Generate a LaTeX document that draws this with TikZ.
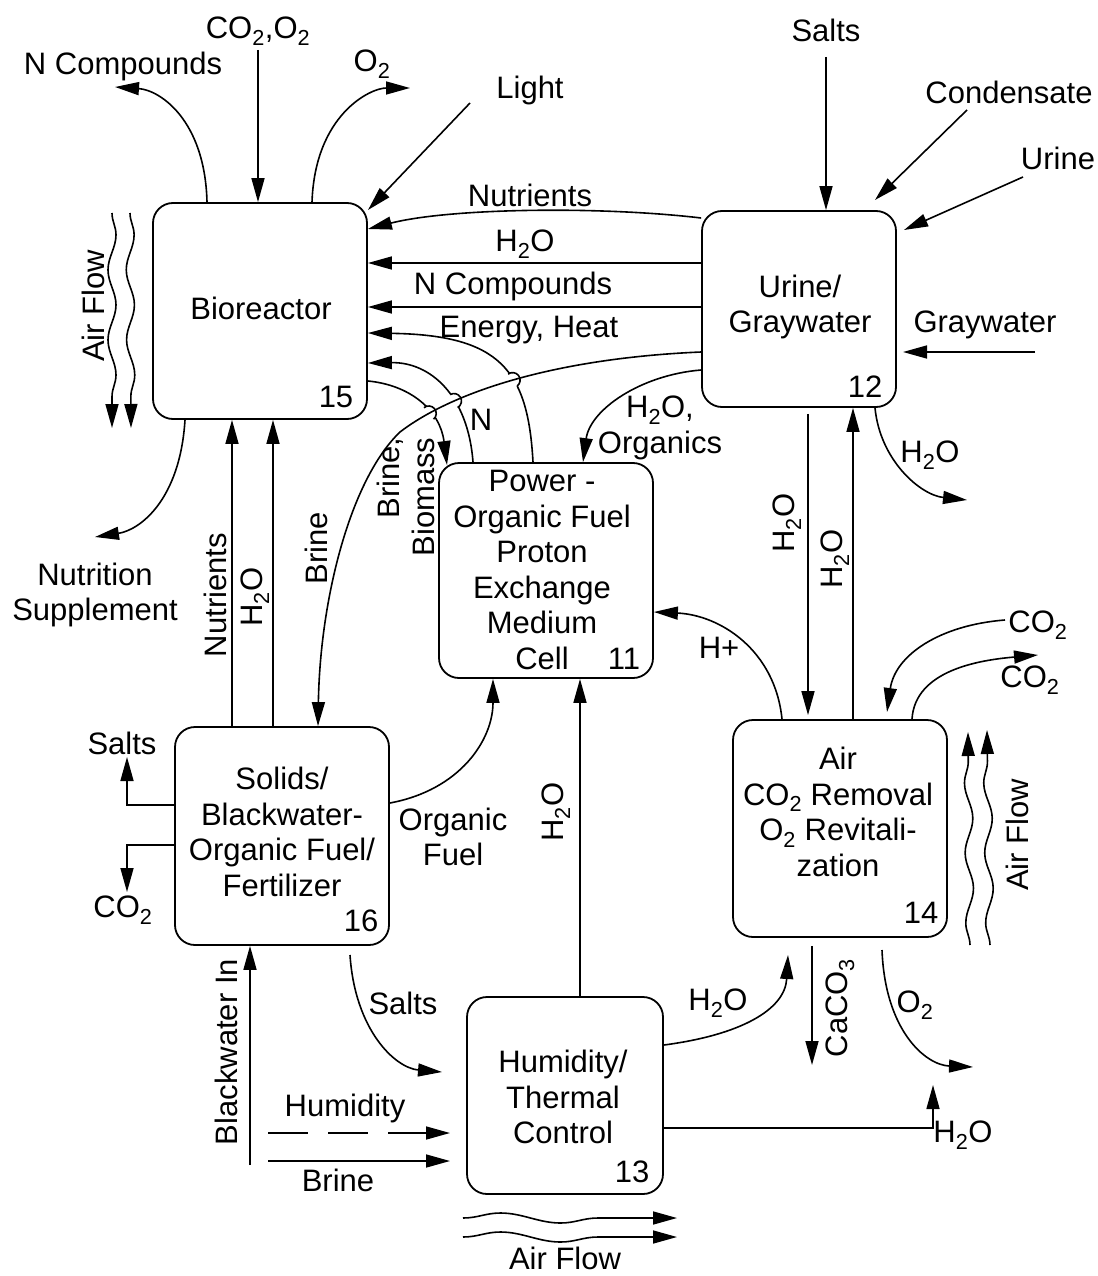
\documentclass[tikz,border=0pt]{standalone}
\usepackage{fontspec}
\setmainfont{Liberation Sans}
\usetikzlibrary{arrows.meta,decorations.pathmorphing,intersections}
\newcommand\fs{\fontsize{31}{35.5}\selectfont}
\newcommand\sbs[1]{\textsubscript{#1}}
\begin{document}
\begin{tikzpicture}[x=1pt,y=-1pt,
  box/.style={draw, rounded corners=20pt, line width=1.8pt, inner sep=0pt},
  lbl/.style={font=\fs, inner sep=0pt, align=center},
  ln/.style={line width=1.6pt},
  arr/.style={line width=1.6pt, -{Triangle[length=24pt,width=13pt]}},
  wave/.style={decorate, decoration={snake, amplitude=4pt, segment length=70pt, post length=28pt}},
  hwave/.style={decorate, decoration={snake, amplitude=5pt, segment length=120pt, post length=28pt}},
]
\useasboundingbox[fill=white] (0,0) rectangle (1097,1276);

% ---------- boxes ----------
\node[box, minimum width=214pt, minimum height=216pt] (b15) at (260,311) {};
\node[box, minimum width=194pt, minimum height=196pt] (b12) at (799,309) {};
\node[box, minimum width=214pt, minimum height=215pt] (b11) at (546,570.5) {};
\node[box, minimum width=214pt, minimum height=217pt] (b14) at (840,828.5) {};
\node[box, minimum width=214pt, minimum height=218pt] (b16) at (282,836) {};
\node[box, minimum width=196pt, minimum height=197pt] (b13) at (565,1095.5) {};

\node[lbl] (t15) at (261,308) {Bioreactor};
\node[lbl] (n15) at (336,397) {15};
\node[lbl] (t12) at (800,307) {Urine/\\Graywater};
\node[lbl] (n12) at (865,387) {12};
\node[lbl] (t11) at (542,570) {Power -\\Organic Fuel\\Proton\\Exchange\\Medium\\Cell};
\node[lbl] (n11) at (624,659) {11};
\node[lbl] (t14) at (838,812) {Air\\CO\sbs{2} Removal\\O\sbs{2} Revitali-\\zation};
\node[lbl] (n14) at (921,913) {14};
\node[lbl] (t16) at (282,832) {Solids/\\Blackwater-\\Organic Fuel/\\Fertilizer};
\node[lbl] (n16) at (361,921) {16};
\node[lbl] (t13) at (563,1097) {Humidity/\\Thermal\\Control};
\node[lbl] (n13) at (632,1172) {13};

% ---------- free ends ----------
\coordinate (pNC) at (115,87);
\coordinate (pCO) at (258,50);
\coordinate (pO2) at (410,88);
\coordinate (pLs) at (470,103);
\coordinate (pLe) at (368,210);
\coordinate (pSa) at (826,57);
\coordinate (pCs) at (967,110);
\coordinate (pCe) at (875,200);
\coordinate (pUs) at (1023,177);
\coordinate (pUe) at (904,230);
\coordinate (pGs) at (1035,352);
\coordinate (pGe) at (903,352);
\coordinate (pWo) at (967,500);
\coordinate (pNS) at (95,537);
\coordinate (pBB) at (447,465);
\coordinate (pSs) at (127,757);
\coordinate (pCd) at (127,892);
\coordinate (pS16) at (350,955);
\coordinate (pS13) at (442,1072);
\coordinate (pBW) at (250,1165);
\coordinate (pHs) at (268,1133);
\coordinate (pHe) at (450,1133);
\coordinate (pBs) at (268,1161);
\coordinate (pBe) at (450,1161);
\coordinate (pW14) at (788,955);
\coordinate (pWc) at (933,1085);
\coordinate (pC1) at (1005,620);
\coordinate (pC1e) at (887,712);
\coordinate (pC2) at (1038,655);
\coordinate (pCa) at (812,1065);
\coordinate (pOs) at (882,950);
\coordinate (pOe) at (973,1067);

% ---------- Bioreactor top ----------
\draw[arr] (207,0 |- b15.north) .. controls (205,120) and (160,90) .. (pNC);
\draw[arr] (pCO) -- (258,0 |- b15.north);
\draw[arr] (312,0 |- b15.north) .. controls (315,115) and (370,88) .. (pO2);
\draw[arr] (pLs) -- (pLe);
\node[lbl] at (123,66) {N Compounds};
\node[lbl] at (258,31) {CO\sbs{2},O\sbs{2}};
\node[lbl] at (372,64) {O\sbs{2}};
\node[lbl] at (530,90) {Light};

% ---------- Urine box inputs ----------
\draw[arr] (pSa) -- (826,0 |- b12.north);
\draw[arr] (pCs) -- (pCe);
\draw[arr] (pUs) -- (pUe);
\draw[arr] (pGs) -- (pGe);
\node[lbl] at (826,30) {Salts};
\node[lbl] at (1009,92) {Condensate};
\node[lbl] at (1058,158) {Urine};
\node[lbl] at (985,325) {Graywater};

% ---------- Urine -> Bioreactor ----------
\draw[arr] (b12.west |- 0,218) .. controls (600,206) and (450,208) .. (b15.east |- 0,229);
\draw[arr] (b12.west |- 0,263) -- (b15.east |- 0,263);
\draw[arr] (b12.west |- 0,307) -- (b15.east |- 0,307);
\node[lbl] at (530,195) {Nutrients};
\node[lbl] at (525,244) {H\sbs{2}O};
\node[lbl] at (513,286) {N Compounds};
\node[lbl] at (529,330) {Energy, Heat};

% ---------- crossing curves ----------
\path[name path=brine] (b12.west |- 0,352) .. controls (560,358) and (455,390) .. (400,432) .. controls (350,480) and (320,600) .. (318,0 |- b16.north);
\draw[arr, name path=energy] (533,0 |- b11.north) .. controls (528,370) and (500,335) .. (b15.east |- 0,333);
\draw[arr, name path=ncurve] (473,0 |- b11.north) .. controls (468,395) and (430,362) .. (b15.east |- 0,363);
\draw[arr, name path=bbio] (b15.east |- 0,381) .. controls (410,385) and (440,410) .. (pBB);
\path[name intersections={of=brine and energy, by=xe}];
\path[name intersections={of=brine and ncurve, by=xn}];
\path[name intersections={of=brine and bbio, by=xb}];
\fill[white] (xe) circle (7.5) (xn) circle (7.5) (xb) circle (7.5);
\draw[ln] (xe) ++(53:7.5) arc[start angle=53, end angle=-127, radius=7.5];
\draw[ln] (xn) ++(60:7.5) arc[start angle=60, end angle=-120, radius=7.5];
\draw[ln] (xb) ++(50:7.5) arc[start angle=50, end angle=-130, radius=7.5];
\draw[arr] (b12.west |- 0,352) .. controls (560,358) and (455,390) .. (400,432) .. controls (350,480) and (320,600) .. (318,0 |- b16.north);
\node[lbl] at (481,420) {N};
\node[lbl, rotate=90, align=right] at (406,497) {Brine,\\Biomass};
\node[lbl, rotate=90] at (316,548) {Brine};

\draw[arr] (b12.west |- 0,370) .. controls (640,375) and (590,410) .. (583,0 |- b11.north);
\node[lbl] at (660,428) {H\sbs{2}O,\\Organics};

% ---------- Urine bottom ----------
\draw[arr, shorten <=6pt, shorten >=4pt] (808,0 |- b12.south) -- (808,0 |- b14.north);
\draw[arr] (853,0 |- b14.north) -- (853,0 |- b12.south);
\draw[arr] (875,0 |- b12.south) .. controls (880,460) and (920,495) .. (pWo);
\node[lbl, rotate=90] at (787,523) {H\sbs{2}O};
\node[lbl, rotate=90] at (835,559) {H\sbs{2}O};
\node[lbl] at (930,455) {H\sbs{2}O};

% ---------- Bioreactor bottom / left ----------
\draw[arr] (185,0 |- b15.south) .. controls (180,500) and (140,530) .. (pNS);
\node[lbl] at (95,595) {Nutrition\\Supplement};
\draw[arr] (232,0 |- b16.north) -- (232,0 |- b15.south);
\draw[arr] (273,0 |- b16.north) -- (273,0 |- b15.south);
\node[lbl, rotate=90] at (215,595) {Nutrients};
\node[lbl, rotate=90] at (255,597) {H\sbs{2}O};
\draw[arr, wave] (112,213) -- (112,428);
\draw[arr, wave] (130,213) -- (131,428);
\node[lbl, rotate=90] at (93,306) {Air Flow};

% ---------- Solids box ----------
\draw[arr] (b16.west |- 0,805) -| (pSs);
\draw[arr] (b16.west |- 0,845) -| (pCd);
\node[lbl] at (122,743) {Salts};
\node[lbl] at (123,910) {CO\sbs{2}};
\draw[arr] (b16.east |- 0,803) .. controls (460,790) and (493,740) .. (493,0 |- b11.south);
\node[lbl] at (453,837) {Organic\\Fuel};
\draw[arr] (pS16) .. controls (355,1030) and (395,1068) .. (pS13);
\node[lbl] at (403,1003) {Salts};
\draw[arr] (pBW) -- (250,0 |- b16.south);
\node[lbl, rotate=90] at (226,1052) {Blackwater In};
\draw[arr, dash pattern=on 40pt off 20pt] (pHs) -- (pHe);
\draw[arr] (pBs) -- (pBe);
\node[lbl] at (345,1108) {Humidity};
\node[lbl] at (338,1180) {Brine};

% ---------- Humidity box ----------
\draw[arr] (580,0 |- b13.north) -- (580,0 |- b11.south);
\node[lbl, rotate=90] at (556,812) {H\sbs{2}O};
\draw[arr] (b13.east |- 0,1045) .. controls (740,1035) and (785,1010) .. (pW14);
\node[lbl] at (718,1003) {H\sbs{2}O};
\draw[arr] (b13.east |- 0,1128) -| (pWc);
\node[lbl] at (963,1135) {H\sbs{2}O};
\draw[arr, hwave] (463,1218) -- (677,1218);
\draw[arr, hwave] (463,1237) -- (677,1237);
\node[lbl] at (565,1258) {Air Flow};

% ---------- Air box ----------
\draw[arr] (782,0 |- b14.north) .. controls (775,650) and (720,615) .. (b11.east |- 0,612);
\node[lbl] at (719,648) {H+};
\draw[arr] (pC1) .. controls (940,625) and (895,655) .. (pC1e);
\draw[arr] (912,0 |- b14.north) .. controls (915,670) and (980,660) .. (pC2);
\node[lbl] at (1038,625) {CO\sbs{2}};
\node[lbl] at (1030,680) {CO\sbs{2}};
\draw[arr, wave] (970,945) -- (968,732);
\draw[arr, wave] (990,945) -- (987,730);
\node[lbl, rotate=90] at (1017,835) {Air Flow};
\draw[arr, shorten <=8pt] (812,0 |- b14.south) -- (pCa);
\node[lbl, rotate=90] at (840,1008) {CaCO\sbs{3}};
\draw[arr] (pOs) .. controls (885,1030) and (925,1065) .. (pOe);
\node[lbl] at (915,1005) {O\sbs{2}};
\end{tikzpicture}
\end{document}
